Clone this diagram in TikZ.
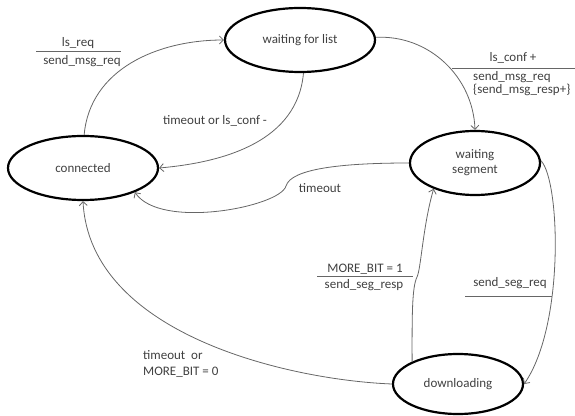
\documentclass[tikz,border=0pt]{standalone}
\usepackage{fontspec}
\setmainfont{Carlito}
\usetikzlibrary{arrows.meta,shapes.geometric}
\definecolor{txt}{HTML}{404040}
\definecolor{edge}{HTML}{666666}
\begin{document}
\begin{tikzpicture}[x=1pt,y=1pt,
  state/.style={draw=black,line width=2.2pt,ellipse,inner sep=0pt,font=\fontsize{13}{15}\selectfont,text=txt,align=center},
  trans/.style={draw=edge,line width=0.8pt,-{Straight Barb[length=4pt,width=8pt]}},
  lbl/.style={font=\fontsize{13}{15}\selectfont,text=txt,inner sep=0pt},
  sep/.style={draw=edge,line width=1pt}]
\useasboundingbox (0,0) rectangle (575,415);
\node[state,minimum width=150pt,minimum height=64pt] (wfl) at (300,375) {waiting for list};
\node[state,minimum width=150pt,minimum height=64pt] (conn) at (83,247) {connected};
\node[state,minimum width=130pt,minimum height=64pt] (wseg) at (475,252) {waiting\\segment};
\node[state,minimum width=130pt,minimum height=60pt] (dl) at (458,31) {downloading};

% connected -> waiting for list
\draw[trans] (conn.88) to[out=85,in=180] (wfl.180);
% waiting for list -> connected
\draw[trans] (wfl.-84) to[out=-95,in=5] (conn.0);
% waiting for list -> waiting segment
\draw[trans] (wfl.2) to[out=3,in=92] (wseg.90);
% waiting segment -> connected (timeout)
\draw[trans] (wseg.180) .. controls (340,252) and (291,246) .. (286,229)
  .. controls (280,208) and (160,185) .. (conn.-25);
% downloading -> waiting segment
\draw[trans] (dl.154) .. controls (412,100) and (412,128) .. (417,138)
  .. controls (421,146) and (423,190) .. (wseg.212);
% waiting segment -> downloading
\draw[trans] (wseg.2) .. controls (560,235) and (565,90) .. (dl.0);
% downloading -> connected
\draw[trans] (dl.180) .. controls (290,35) and (90,80) .. (conn.-90);

% labels
\node[lbl] (l1a) at (78,372) {ls\_req};
\draw[sep] (36,363) -- (121,363);
\node[lbl] (l1b) at (82,354) {send\_msg\_req};

\node[lbl] (l2) at (215,294) {timeout or ls\_conf -};

\node[lbl] (l3a) at (513,357) {ls\_conf +};
\draw[sep] (452,346) -- (575,346);
\node[lbl,anchor=west] (l3b) at (473,337.5) {send\_msg\_req};
\node[lbl,anchor=west] (l3c) at (473,325) {\{send\_msg\_resp+\}};

\node[lbl] (l4) at (320,227) {timeout};

\node[lbl] (l5a) at (365,146) {MORE\_BIT = 1};
\draw[sep] (317,138) -- (413,138);
\node[lbl] (l5b) at (364,130) {send\_seg\_resp};

\node[lbl] (l6) at (510,132) {send\_seg\_req};
\draw[sep] (465,118) -- (552,118);

\node[lbl,anchor=west] (l7a) at (143,60) {timeout\ \ or};
\node[lbl,anchor=west] (l7b) at (143,43) {MORE\_BIT = 0};
\end{tikzpicture}
\end{document}
